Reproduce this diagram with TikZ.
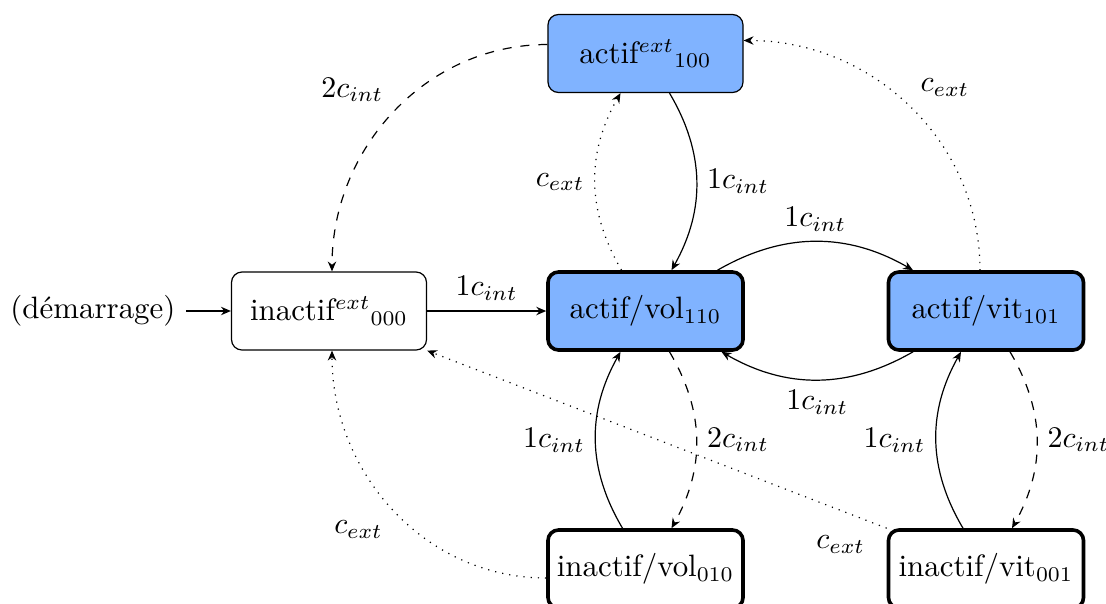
\documentclass[tikz,border=0pt]{standalone}
\usetikzlibrary{arrows.meta,calc}
\definecolor{actblue}{HTML}{80B3FF}
\begin{document}
\begin{tikzpicture}[x=0.3333pt,y=0.3333pt,
  >={Stealth[length=3.3pt,width=2.8pt]},
  every node/.style={font=\fontsize{10.3pt}{12pt}\selectfont},
  state/.style={draw,rounded corners=3.5pt,minimum width=65pt,minimum height=26pt,inner sep=0pt,line width=0.4pt},
  active/.style={state,fill=actblue},
  strong/.style={line width=1.2pt},
]
\useasboundingbox (0,0) rectangle (1106,-603);
\node[active] (top) at (645.5,-53.5) {actif$^{ext}{}_{100}$};
\node[state] (i0) at (329,-311) {inactif$^{ext}{}_{000}$};
\node[active,strong] (vol) at (645.5,-311) {actif/vol$_{110}$};
\node[active,strong] (vit) at (986,-311) {actif/vit$_{101}$};
\node[state,strong] (i010) at (645.5,-569) {inactif/vol$_{010}$};
\node[state,strong] (i001) at (986,-569) {inactif/vit$_{001}$};
\node[anchor=east] (start) at (186,-311) {(démarrage)};

\draw[->] (start) -- (i0);
\draw[->] (i0) -- node[above]{$1c_{int}$} (vol);
\draw[->,dashed] ($(top.west)+(0,9)$) to[out=180,in=90] node[above left]{$2c_{int}$} ($(i0.north)+(3,0)$);
\draw[->,dotted] ($(vol.north)+(-24,0)$) to[bend left=30] node[left]{$c_{ext}$} ($(top.south)+(-25,0)$);
\draw[->] ($(top.south)+(24,0)$) to[bend left=30] node[right]{$1c_{int}$} ($(vol.north)+(26,0)$);
\draw[->] ($(vol.north)+(72,0)$) to[bend left=30] node[above]{$1c_{int}$} ($(vit.north)+(-73,0)$);
\draw[->] ($(vit.south)+(-73,0)$) to[bend left=30] node[below]{$1c_{int}$} ($(vol.south)+(76,0)$);
\draw[->,dotted] ($(vit.north)+(-6,0)$) to[out=90,in=0] node[above right]{$c_{ext}$} ($(top.east)+(0,13)$);
\draw[->,dashed] ($(vol.south)+(24,0)$) to[bend left=30] node[right]{$2c_{int}$} ($(i010.north)+(26,0)$);
\draw[->] ($(i010.north)+(-23,0)$) to[bend left=30] node[left]{$1c_{int}$} ($(vol.south)+(-25,0)$);
\draw[->,dashed] ($(vit.south)+(24,0)$) to[bend left=30] node[right]{$2c_{int}$} ($(i001.north)+(26,0)$);
\draw[->] ($(i001.north)+(-23,0)$) to[bend left=30] node[left]{$1c_{int}$} ($(vit.south)+(-25,0)$);
\draw[->,dotted] (i001.north west) -- node[pos=0.1,below=5pt]{$c_{ext}$} (i0.south east);
\draw[->,dotted] ($(i010.west)+(0,-9)$) to[out=180,in=-90] node[below left]{$c_{ext}$} ($(i0.south)+(3,0)$);
\end{tikzpicture}
\end{document}
